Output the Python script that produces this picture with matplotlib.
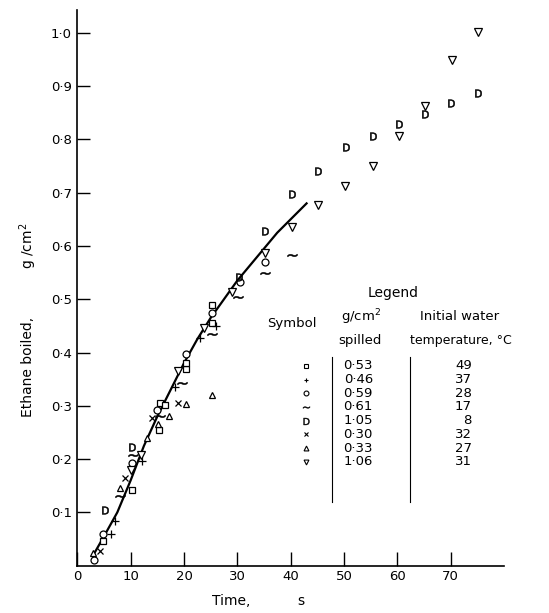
import matplotlib
matplotlib.use('Agg')
import matplotlib.pyplot as plt

plt.rcParams['font.family'] = ['DejaVu Sans']

# smoothed curve drawn through the low-spill runs
curve_t = [3, 5, 7.5, 10, 12.5, 15, 17.5, 20, 22.5, 25, 27.5, 30, 32.5, 35, 37.5, 40, 43]
curve_y = [0.02, 0.055, 0.10, 0.16, 0.225, 0.28, 0.33, 0.38, 0.425, 0.465, 0.50,
           0.535, 0.565, 0.595, 0.625, 0.65, 0.68]

# measured points, one list per run (time s, ethane boiled g/cm2)
sq_t = [4.9, 10.2, 15.3, 15.5, 16.4, 20.3, 20.3, 25.2, 25.2]
sq_y = [0.046, 0.1425, 0.255, 0.306, 0.301, 0.370, 0.381, 0.456, 0.489]

plus_t = [6.4, 7.1, 12.1, 18.3, 23.0, 26.1]
plus_y = [0.060, 0.083, 0.197, 0.336, 0.427, 0.45]

circ_t = [3.2, 4.9, 10.2, 14.9, 20.3, 25.2, 30.5, 35.2]
circ_y = [0.011, 0.060, 0.1925, 0.2925, 0.398, 0.474, 0.533, 0.570]

tilde_t = [8.0, 10.5, 15.5, 19.6, 25.3, 30.2, 35.2, 40.2]
tilde_y = [0.130, 0.208, 0.281, 0.343, 0.434, 0.505, 0.550, 0.583]

d_t = [5.2, 10.2, 30.4, 35.2, 40.2, 45.2, 50.4, 55.4, 60.4, 65.3, 70.1, 75.2]
d_y = [0.105, 0.222, 0.542, 0.628, 0.697, 0.741, 0.786, 0.807, 0.829, 0.847, 0.869, 0.887]

x_t = [4.25, 8.9, 13.95, 18.9]
x_y = [0.027, 0.164, 0.278, 0.305]

tri_t = [3.0, 8.0, 13.0, 15.2, 17.25, 20.3, 25.2]
tri_y = [0.024, 0.146, 0.239, 0.265, 0.281, 0.303, 0.321]

vtri_t = [10.1, 11.9, 18.9, 23.75, 28.95, 35.2, 40.2, 45.2, 50.2, 55.4, 60.4, 65.3, 70.3, 75.2]
vtri_y = [0.180, 0.208, 0.366, 0.446, 0.514, 0.586, 0.635, 0.677, 0.712, 0.750,
          0.807, 0.862, 0.949, 1.002]

# legend table
spilled = ['0·53', '0·46', '0·59', '0·61', '1·05', '0·30', '0·33', '1·06']
water_temp = ['49', '37', '28', '17', '8', '32', '27', '31']

markers = ['s', '+', 'o', r'$\sim$', r'$\mathsf{D}$', 'x', '^', 'v']
sizes = [4.5, 6, 5, 7, 5.5, 5, 5, 5.5]
series = [(sq_t, sq_y), (plus_t, plus_y), (circ_t, circ_y), (tilde_t, tilde_y),
          (d_t, d_y), (x_t, x_y), (tri_t, tri_y), (vtri_t, vtri_y)]

yticks = [0.1, 0.2, 0.3, 0.4, 0.5, 0.6, 0.7, 0.8, 0.9, 1.0]
xticks = [0, 10, 20, 30, 40, 50, 60, 70]

fig = plt.figure(figsize=(5.49, 6.13), dpi=100)
ax = fig.add_axes([0.1408, 0.0772, 0.777, 0.9065])

ax.plot(curve_t, curve_y, color='black', lw=1.6, zorder=1)

for (t, y), m, s in zip(series, markers, sizes):
    is_text = m.startswith('$')
    ax.plot(t, y, linestyle='none', marker=m, ms=s, mew=0.4 if is_text else 0.9,
            mfc='black' if is_text else 'white', mec='black', color='black', zorder=3)

ax.set_xlim(0, 80)
ax.set_ylim(0, 1.043)
ax.spines['top'].set_visible(False)
ax.spines['right'].set_visible(False)
ax.spines['left'].set_linewidth(1.2)
ax.spines['bottom'].set_linewidth(1.2)

ax.set_xticks(xticks)
ax.set_xticklabels([str(v) for v in xticks])
ax.set_yticks(yticks)
ax.set_yticklabels([f'{v:.1f}'.replace('.', '·') for v in yticks])
ax.tick_params(axis='x', direction='in', length=10, width=1, pad=3, labelsize=9.5)
ax.tick_params(axis='y', direction='in', length=9.5, width=1, pad=4, labelsize=9.5)

fig.text(28 / 549, 1 - 367 / 613, 'Ethane boiled,', rotation=90, ha='center', va='center', fontsize=10)
fig.text(28 / 549, 1 - 246 / 613, 'g /cm$^2$', rotation=90, ha='center', va='center', fontsize=10)
fig.text(231 / 549, 1 - 601 / 613, 'Time,', ha='center', va='center', fontsize=10)
fig.text(301 / 549, 1 - 601 / 613, 's', ha='center', va='center', fontsize=10)

# legend drawn as a little table inside the axes
ax.text(59.2, 0.511, 'Legend', ha='center', va='center', fontsize=10)
ax.text(40.2, 0.455, 'Symbol', ha='center', va='center', fontsize=9.5)
ax.text(53.3, 0.467, 'g/cm$^2$', ha='center', va='center', fontsize=9.5)
ax.text(53.0, 0.423, 'spilled', ha='center', va='center', fontsize=9.5)
ax.text(71.6, 0.467, 'Initial water', ha='center', va='center', fontsize=9.5)
ax.text(71.9, 0.423, 'temperature, °C', ha='center', va='center', fontsize=9)

row_y = 0.375
for m, sp, wt in zip(markers, spilled, water_temp):
    is_text = m.startswith('$')
    ax.plot([42.9], [row_y], marker=m, ms=5 if is_text else 3.5, mew=0.3 if is_text else 0.8,
            mfc='black' if is_text else 'white', mec='black', color='black', linestyle='none')
    ax.text(52.7, row_y, sp, ha='center', va='center', fontsize=9.5)
    ax.text(74.0, row_y, wt, ha='right', va='center', fontsize=9.5)
    row_y -= 0.0257

ax.plot([47.7, 47.7], [0.392, 0.120], color='black', lw=0.8)
ax.plot([62.4, 62.4], [0.392, 0.120], color='black', lw=0.8)

fig.savefig('out.png', dpi=100)
